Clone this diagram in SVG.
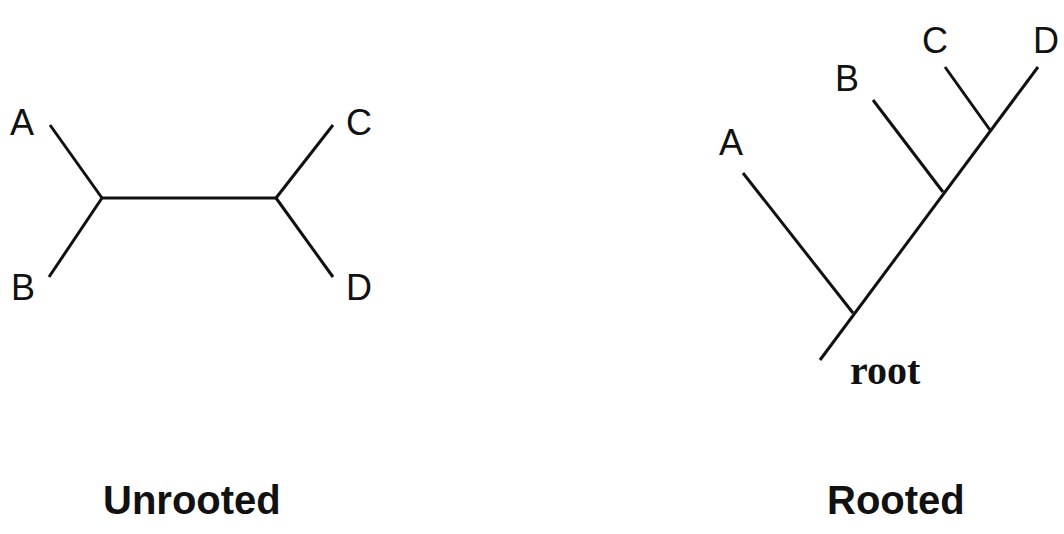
<svg xmlns="http://www.w3.org/2000/svg" width="1064" height="534" viewBox="0 0 1064 534">
<style>
.br{stroke:#111;stroke-width:3;stroke-linecap:butt;fill:none}
.lb{font-family:"Liberation Sans",Arial,sans-serif;font-size:36px;fill:#111}
.tt{font-family:"Liberation Sans",Arial,sans-serif;font-size:40px;font-weight:bold;fill:#111}
.rt{font-family:"Liberation Serif","Times New Roman",serif;font-size:40px;font-weight:bold;fill:#111}
</style>
<rect width="1064" height="534" fill="#fff"/>
<g id="connectors">
<line class="br" x1="102" y1="198" x2="276" y2="198"/>
<line class="br" x1="50" y1="125" x2="102" y2="198"/>
<line class="br" x1="49" y1="277" x2="102" y2="198"/>
<line class="br" x1="333" y1="125" x2="276" y2="198"/>
<line class="br" x1="333" y1="277" x2="276" y2="198"/>
<line class="br" x1="820" y1="360" x2="1038" y2="67"/>
<line class="br" x1="743" y1="173" x2="853" y2="313"/>
<line class="br" x1="873" y1="100" x2="943" y2="192"/>
<line class="br" x1="945" y1="67" x2="990" y2="130"/>
</g>
<g id="unrooted-A"><text class="lb" x="10" y="135">A</text></g>
<g id="unrooted-B"><text class="lb" x="11" y="300">B</text></g>
<g id="unrooted-C"><text class="lb" x="346" y="135">C</text></g>
<g id="unrooted-D"><text class="lb" x="346" y="300">D</text></g>
<g id="rooted-A"><text class="lb" x="719" y="155">A</text></g>
<g id="rooted-B"><text class="lb" x="835" y="91">B</text></g>
<g id="rooted-C"><text class="lb" x="922" y="53">C</text></g>
<g id="rooted-D"><text class="lb" x="1033" y="53">D</text></g>
<g id="root"><text class="rt" x="850" y="384">root</text></g>
<g id="title-unrooted"><text class="tt" x="103" y="514">Unrooted</text></g>
<g id="title-rooted"><text class="tt" x="827" y="514">Rooted</text></g>
</svg>
